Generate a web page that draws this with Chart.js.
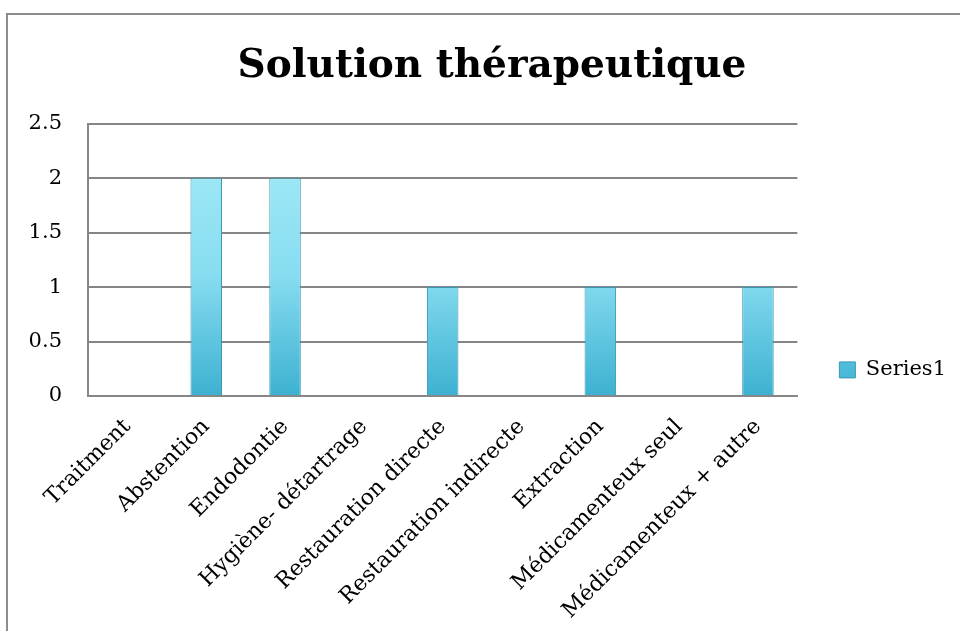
<!DOCTYPE html>
<html>
<head>
<meta charset="utf-8">
<script src="https://cdn.jsdelivr.net/npm/chart.js"></script>
<style>
html, body { margin: 0; padding: 0; background: #fff; overflow: hidden; }
.frame {
    position: absolute;
    left: 6px;
    top: 13px;
    border: 2px solid #8c8c8c;
    width: 1000px;
    height: 660px;
    overflow: hidden;
}
#chart {
    position: absolute;
    left: -22px;
    top: 0;
}
</style>
</head>
<body>
<div class="frame">
    <canvas id="chart" width="970" height="660"></canvas>
</div>

<script>
// valeurs
const categories = ['Traitment', 'Abstention', 'Endodontie', 'Hygiène- détartrage', 'Restauration directe',
    'Restauration indirecte', 'Extraction', 'Médicamenteux seul', 'Médicamenteux + autre'];
const series1 = [0, 2, 2, 0, 1, 0, 1, 0, 1];
const yTicks = [0, 0.5, 1, 1.5, 2, 2.5];

const fontFamily = '"DejaVu Serif", "Liberation Serif", serif';

function barFill(context) {
    const chart = context.chart;
    const area = chart.chartArea;
    if (!area) return '#6fcde4';
    const g = chart.ctx.createLinearGradient(0, area.top, 0, area.bottom);
    g.addColorStop(0, '#a6ecf8');
    g.addColorStop(0.55, '#88ddf1');
    g.addColorStop(1, '#3db1d1');
    return g;
}

new Chart(document.getElementById('chart'), {
    type: 'bar',
    data: {
        labels: categories,
        datasets: [{
            label: 'Series1',
            data: series1,
            backgroundColor: barFill,
            borderColor: '#3a98b4',
            borderWidth: 1,
            barPercentage: 0.4,
            categoryPercentage: 1
        }]
    },
    options: {
        responsive: false,
        animation: false,
        layout: {
            padding: { left: 42, right: 0, top: 0, bottom: 33 }
        },
        scales: {
            x: {
                grid: { display: false, drawTicks: false },
                border: { color: '#868686', width: 2 },
                ticks: {
                    color: '#000',
                    font: { family: fontFamily, size: 22 },
                    maxRotation: 45,
                    minRotation: 45,
                    padding: 18,
                    autoSkip: false
                },
                // les étiquettes inclinées débordent à gauche comme dans Excel
                afterFit: function(axis) {
                    axis.paddingLeft = 0;
                }
            },
            y: {
                min: 0,
                max: 2.5,
                afterBuildTicks: function(axis) {
                    axis.ticks = yTicks.map(v => ({ value: v }));
                },
                afterFit: function(axis) {
                    axis.width = 60;
                },
                grid: { color: '#868686', lineWidth: 2, drawTicks: false },
                border: { color: '#868686', width: 2 },
                ticks: {
                    color: '#000',
                    font: { family: fontFamily, size: 21 },
                    padding: 26,
                    callback: v => String(v)
                }
            }
        },
        plugins: {
            title: {
                display: true,
                text: 'Solution thérapeutique',
                color: '#000',
                font: { family: fontFamily, size: 39, weight: 'bold' },
                padding: { top: 28, bottom: 34 }
            },
            legend: {
                position: 'right',
                align: 'start',
                title: {
                    display: true,
                    text: ' ',
                    padding: { top: 288, bottom: 0 }
                },
                labels: {
                    color: '#000',
                    font: { family: fontFamily, size: 21 },
                    boxWidth: 16,
                    boxHeight: 16,
                    padding: 42
                }
            },
            tooltip: { enabled: false }
        }
    }
});
</script>
</body>
</html>
